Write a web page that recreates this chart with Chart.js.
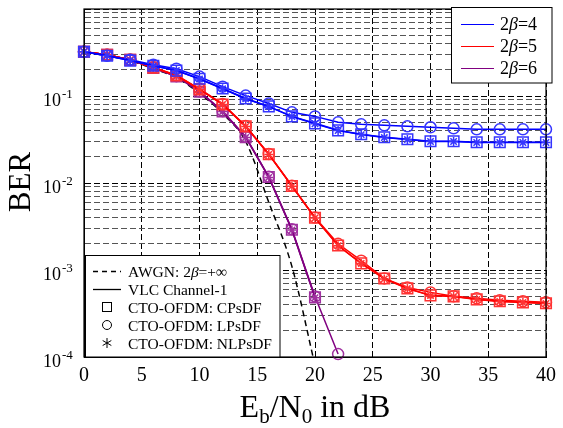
<!DOCTYPE html>
<html>
<head>
<meta charset="utf-8">
<script src="https://cdn.jsdelivr.net/npm/chart.js@4.4.0/dist/chart.umd.min.js"></script>
<style>
  html, body { margin: 0; padding: 0; background: #fff; }
</style>
</head>
<body>
<canvas id="grafikBER" width="563" height="428"></canvas>
<script>
// =======================
// BER vs Eb/N0 (CTO-OFDM)
// =======================

// x axis: Eb/N0 in dB
const snrDb = [0, 2, 4, 6, 8, 10, 12, 14, 16, 18, 20, 22, 24, 26, 28, 30, 32, 34, 36, 38, 40];
const snrAwgn = [0, 2, 4, 6, 8, 10, 12, 14, 16, 18, 20];
const xTicks = [0, 5, 10, 15, 20, 25, 30, 35, 40];

// y axis decades + labels
const yDecades = [1e-4, 1e-3, 1e-2, 1e-1, 1];
const yLabelValues = [1e-1, 1e-2, 1e-3, 1e-4];
const yLabelExp = ["-1", "-2", "-3", "-4"];

// 2beta = 4
const ber4CPsDF  = [0.323, 0.290, 0.255, 0.223, 0.196, 0.158, 0.122, 0.0936, 0.0759, 0.0583, 0.0485, 0.0403, 0.0363, 0.0336, 0.0318, 0.0302, 0.0302, 0.0294, 0.0294, 0.0294, 0.0294];
const ber4LPsDF  = [0.323, 0.290, 0.261, 0.229, 0.206, 0.167, 0.128, 0.101, 0.082, 0.0649, 0.0583, 0.0498, 0.0472, 0.0460, 0.0448, 0.0437, 0.0425, 0.0414, 0.0414, 0.0414, 0.0414];
const ber4NLPsDF = [0.323, 0.290, 0.255, 0.222, 0.196, 0.157, 0.121, 0.0930, 0.0755, 0.0580, 0.0480, 0.0400, 0.0360, 0.0333, 0.0316, 0.0300, 0.0300, 0.0292, 0.0292, 0.0292, 0.0292];

// 2beta = 5
const ber5CPsDF  = [0.323, 0.298, 0.260, 0.212, 0.172, 0.119, 0.080, 0.0448, 0.0214, 0.00924, 0.00398, 0.00191, 0.00119, 0.00080, 0.000615, 0.000511, 0.000498, 0.000460, 0.000437, 0.000425, 0.000414];
const ber5LPsDF  = [0.323, 0.298, 0.262, 0.214, 0.174, 0.121, 0.081, 0.0452, 0.0216, 0.00930, 0.00400, 0.00200, 0.00128, 0.00080, 0.000630, 0.000553, 0.000498, 0.000472, 0.000448, 0.000437, 0.000425];
const ber5NLPsDF = [0.323, 0.298, 0.260, 0.212, 0.172, 0.119, 0.080, 0.0446, 0.0213, 0.00920, 0.00396, 0.00190, 0.00119, 0.00079, 0.000612, 0.000508, 0.000495, 0.000458, 0.000435, 0.000423, 0.000412];

// 2beta = 6
const ber6CPsDF  = [0.323, 0.298, 0.260, 0.210, 0.168, 0.112, 0.0665, 0.0336, 0.0117, 0.00290, 0.000485];
const ber6LPsDF  = [0.323, 0.298, 0.260, 0.211, 0.169, 0.113, 0.0670, 0.0340, 0.0118, 0.00295, 0.000495, 0.000108];
const ber6NLPsDF = [0.323, 0.298, 0.260, 0.210, 0.168, 0.112, 0.0662, 0.0334, 0.0116, 0.00288, 0.000480];

// AWGN, 2beta = +inf
const berAwgn = [0.318, 0.290, 0.255, 0.205, 0.162, 0.107, 0.063, 0.030, 0.0060, 0.00110, 0.000080];

// ===============================
// helpers
// ===============================
const FONT = "'Liberation Serif', 'DejaVu Serif', serif";

function toPoints(xs, ys) {
    return ys.map((v, i) => ({ x: xs[i], y: v }));
}

function seri(label, ys, lineColor, markColor, style, radius) {
    return {
        label: label,
        data: toPoints(snrDb, ys),
        borderColor: lineColor,
        borderWidth: 1.5,
        pointStyle: style,
        pointRadius: radius,
        pointBorderColor: markColor,
        pointBorderWidth: 1.5,
        pointBackgroundColor: "rgba(0,0,0,0)",
        fill: false,
        tension: 0,
        clip: 10
    };
}

// text with mixed fonts, left aligned at x, baseline y
function drawRich(ctx, parts, x, y) {
    parts.forEach(p => {
        ctx.font = p[1];
        ctx.fillText(p[0], x, y + (p[2] || 0));
        x += ctx.measureText(p[0]).width;
    });
    return x;
}

function richWidth(ctx, parts) {
    let w = 0;
    parts.forEach(p => { ctx.font = p[1]; w += ctx.measureText(p[0]).width; });
    return w;
}

// grid values for log axis: 1..9 x 10^n
const yGridValues = [];
yDecades.forEach((d, i) => {
    for (let m = 1; m < 10; m++) {
        if (i === yDecades.length - 1 && m > 1) break;
        yGridValues.push(+(d * m).toPrecision(3));
    }
});

const colors = {
    b4: ["#0000ff", "#3535ff"],
    b5: ["#ff0000", "#ff3333"],
    b6: ["#800080", "#a030a0"]
};

// ===============================
// plugin: frame, labels, legends
// ===============================
const decorPlugin = {
    id: "decor",
    afterDraw(chart) {
        const ctx = chart.ctx;
        const a = chart.chartArea;
        const ys = chart.scales.y;
        ctx.save();

        // frame
        ctx.strokeStyle = "#000";
        ctx.lineWidth = 1.2;
        ctx.setLineDash([]);
        ctx.strokeRect(a.left, a.top, a.right - a.left, a.bottom - a.top);

        ctx.fillStyle = "#000";
        ctx.textBaseline = "alphabetic";
        ctx.textAlign = "left";

        // y tick labels 10^n
        yLabelValues.forEach((v, i) => {
            const py = ys.getPixelForValue(v) + 4;
            ctx.font = "18px " + FONT;
            ctx.textAlign = "right";
            ctx.fillText("10", 61, py + 6);
            ctx.textAlign = "left";
            ctx.font = "13px " + FONT;
            ctx.fillText(yLabelExp[i], 62, py - 2);
        });

        // y title
        ctx.save();
        ctx.translate(22, 182);
        ctx.rotate(-Math.PI / 2);
        ctx.font = "31px " + FONT;
        ctx.textAlign = "center";
        ctx.textBaseline = "middle";
        ctx.fillText("BER", 0, 0);
        ctx.restore();

        // x title
        ctx.textAlign = "left";
        const big = "32px " + FONT, sub = "21px " + FONT;
        const xt = [["E", big], ["b", sub, 6], ["/N", big], ["0", sub, 6], [" in dB", big]];
        const cx = (a.left + a.right) / 2;
        drawRich(ctx, xt, cx - richWidth(ctx, xt) / 2, 417);

        // legend 1 (colours)
        ctx.fillStyle = "#fff";
        ctx.fillRect(451, 7, 101, 76);
        ctx.strokeStyle = "#000";
        ctx.lineWidth = 1;
        ctx.strokeRect(451.5, 7.5, 100.5, 75.5);
        const leg1 = [["4", colors.b4[0]], ["5", colors.b5[0]], ["6", colors.b6[0]]];
        leg1.forEach((e, i) => {
            const ly = 24 + i * 22;
            ctx.strokeStyle = e[1];
            ctx.lineWidth = 1.2;
            ctx.beginPath();
            ctx.moveTo(461, ly + 0.5);
            ctx.lineTo(494, ly + 0.5);
            ctx.stroke();
            ctx.fillStyle = "#000";
            drawRich(ctx, [["2", "18px " + FONT], ["\u03b2", "italic 18px " + FONT], ["=" + e[0], "18px " + FONT]], 500, ly + 6);
        });

        // legend 2 (styles / markers)
        ctx.fillStyle = "#fff";
        ctx.fillRect(85, 255, 195, 102);
        ctx.strokeStyle = "#000";
        ctx.lineWidth = 1;
        ctx.strokeRect(85.5, 255.5, 194.5, 101.5);
        const f17 = "15.5px " + FONT;
        const rows = [271, 289, 307, 325, 343];
        ctx.strokeStyle = "#000";
        ctx.lineWidth = 1.3;
        // dashed
        ctx.setLineDash([5, 4]);
        ctx.beginPath(); ctx.moveTo(93, rows[0] + 0.5); ctx.lineTo(121, rows[0] + 0.5); ctx.stroke();
        ctx.setLineDash([]);
        ctx.beginPath(); ctx.moveTo(93, rows[1] + 0.5); ctx.lineTo(121, rows[1] + 0.5); ctx.stroke();
        // square
        ctx.lineWidth = 1;
        ctx.strokeRect(102.5, rows[2] - 4.5, 9, 9);
        // circle
        ctx.beginPath(); ctx.arc(107, rows[3], 4.5, 0, Math.PI * 2); ctx.stroke();
        // asterisk
        ctx.beginPath();
        for (let k = 0; k < 3; k++) {
            const ang = Math.PI / 2 + k * Math.PI / 3;
            ctx.moveTo(107 - 5 * Math.cos(ang), rows[4] - 5 * Math.sin(ang));
            ctx.lineTo(107 + 5 * Math.cos(ang), rows[4] + 5 * Math.sin(ang));
        }
        ctx.stroke();

        ctx.fillStyle = "#000";
        drawRich(ctx, [["AWGN: 2", f17], ["\u03b2", "italic " + f17], ["=+\u221e", f17]], 128, rows[0] + 6);
        drawRich(ctx, [["VLC Channel-1", f17]], 128, rows[1] + 6);
        drawRich(ctx, [["CTO-OFDM: CPsDF", f17]], 128, rows[2] + 6);
        drawRich(ctx, [["CTO-OFDM: LPsDF", f17]], 128, rows[3] + 6);
        drawRich(ctx, [["CTO-OFDM: NLPsDF", f17]], 128, rows[4] + 6);

        ctx.restore();
    }
};

// ===============================
// chart
// ===============================
const datasets = [
    seri("2β=4 NLPsDF", ber4NLPsDF, colors.b4[0], colors.b4[1], "star", 4.5),
    seri("2β=4 CPsDF", ber4CPsDF, colors.b4[0], colors.b4[1], "rect", 7.5),
    seri("2β=4 LPsDF", ber4LPsDF, colors.b4[0], colors.b4[1], "circle", 5.5),
    seri("2β=5 NLPsDF", ber5NLPsDF, colors.b5[0], colors.b5[1], "star", 4.5),
    seri("2β=5 CPsDF", ber5CPsDF, colors.b5[0], colors.b5[1], "rect", 7.5),
    seri("2β=5 LPsDF", ber5LPsDF, colors.b5[0], colors.b5[1], "circle", 5.5),
    seri("2β=6 NLPsDF", ber6NLPsDF, colors.b6[0], colors.b6[1], "star", 4.5),
    seri("2β=6 CPsDF", ber6CPsDF, colors.b6[0], colors.b6[1], "rect", 7.5),
    seri("2β=6 LPsDF", ber6LPsDF, colors.b6[0], colors.b6[1], "circle", 5.5),
    {
        label: "AWGN",
        data: toPoints(snrAwgn, berAwgn),
        borderColor: "#000",
        borderWidth: 1.5,
        borderDash: [6, 4],
        pointRadius: 0,
        fill: false,
        cubicInterpolationMode: "monotone",
        clip: { left: 0, top: 0, right: 0, bottom: 0 }
    }
];

new Chart(document.getElementById("grafikBER"), {
    type: "line",
    data: { datasets: datasets },
    options: {
        responsive: false,
        animation: false,
        devicePixelRatio: 1,
        layout: { padding: { top: 7, right: 11, left: 0, bottom: 0 } },
        plugins: {
            legend: { display: false },
            tooltip: { enabled: false }
        },
        scales: {
            x: {
                type: "linear",
                min: 0,
                max: 40,
                afterBuildTicks: axis => { axis.ticks = xTicks.map(v => ({ value: v })); },
                afterFit: axis => { axis.height = 71; },
                ticks: {
                    color: "#000",
                    padding: 7,
                    font: { family: FONT, size: 20 },
                    maxRotation: 0
                },
                grid: { color: "#000", lineWidth: 1, drawTicks: false },
                border: { display: true, color: "#000", dash: [6, 3] }
            },
            y: {
                type: "logarithmic",
                min: 1e-4,
                max: 1,
                afterBuildTicks: axis => {
                    axis.ticks = yGridValues.map(v => ({ value: v, major: yDecades.includes(v) }));
                },
                afterFit: axis => { axis.width = 84; },
                ticks: { display: false },
                grid: {
                    drawTicks: false,
                    lineWidth: 1,
                    color: c => (c.tick && yDecades.includes(c.tick.value)) ? "#000" : "#555"
                },
                border: { display: true, color: "#000", dash: [6, 3] }
            }
        }
    },
    plugins: [decorPlugin]
});
</script>
</body>
</html>
